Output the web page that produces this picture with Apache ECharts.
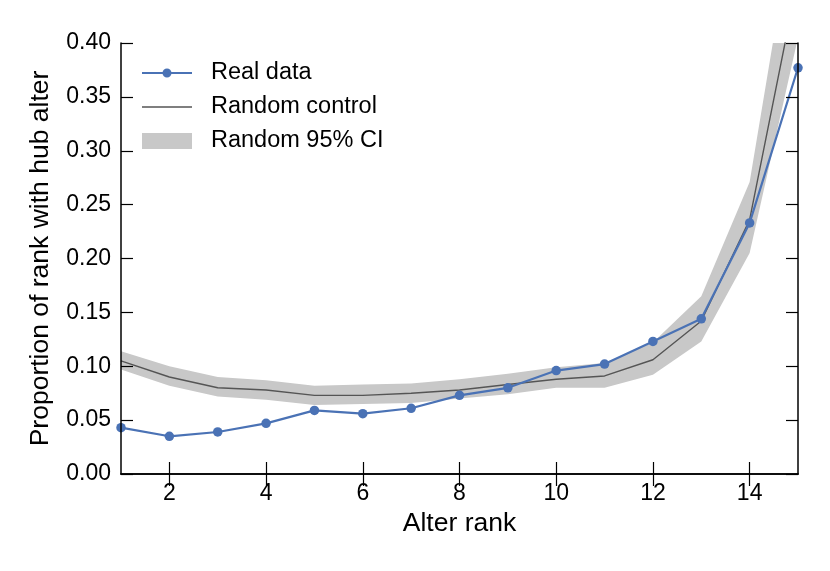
<!DOCTYPE html>
<html>
<head>
<meta charset="utf-8">
<script src="https://cdn.jsdelivr.net/npm/echarts@6/dist/echarts.min.js"></script>
<style>
  html, body { margin: 0; padding: 0; background: #fff; }
  #chart { width: 830px; height: 571px; }
</style>
</head>
<body>
<div id="chart"></div>
<script>
// 数据：横轴为 alter rank，纵轴为比例
const ranks = [1, 2, 3, 4, 5, 6, 7, 8, 9, 10, 11, 12, 13, 14, 15];
const realData = [0.043, 0.035, 0.039, 0.047, 0.059, 0.056, 0.061, 0.073, 0.080, 0.096, 0.102, 0.123, 0.144, 0.233, 0.377];
const randomControl = [0.105, 0.090, 0.080, 0.078, 0.073, 0.073, 0.075, 0.078, 0.083, 0.088, 0.091, 0.106, 0.142, 0.236, 0.46];
const ciLower = [0.097, 0.082, 0.072, 0.069, 0.064, 0.065, 0.066, 0.070, 0.074, 0.080, 0.080, 0.092, 0.123, 0.205, 0.405];
const ciUpper = [0.114, 0.100, 0.090, 0.087, 0.082, 0.083, 0.084, 0.088, 0.093, 0.099, 0.103, 0.122, 0.165, 0.271, 0.54];
const xTicks = [2, 4, 6, 8, 10, 12, 14];

const FONT = '"Liberation Sans", Arial, Helvetica, sans-serif';
const BLUE = '#4a72b5';
const GREY = '#555555';
const BAND = '#c8c8c8';
const pairs = vals => ranks.map((r, i) => [r, vals[i]]);

const chart = echarts.init(document.getElementById('chart'));

const tickStyle = { show: true, inside: true, length: 12, lineStyle: { color: '#000', width: 1.2 } };
const axisLineStyle = { show: true, lineStyle: { color: '#000', width: 1.5 } };

// 图例图标：线 + 圆点 / 细线
const realIcon = 'path://M0,3.5 H50 V5.5 H0 Z M20.5,4.5 A4.5,4.5 0 1 1 29.5,4.5 A4.5,4.5 0 1 1 20.5,4.5 Z';
const controlIcon = 'path://M0,0 H50 V1.4 H0 Z';

const option = {
  animation: false,
  backgroundColor: '#fff',
  textStyle: { fontFamily: FONT },
  grid: { left: 121, right: 32, top: 43, bottom: 97 },
  legend: {
    orient: 'vertical',
    left: 137,
    top: 56,
    itemWidth: 50,
    itemHeight: 16,
    itemGap: 10,
    textStyle: { fontSize: 23.5, lineHeight: 23.5, color: '#000', fontFamily: FONT, padding: [0, 0, 0, 14] },
    data: [
      { name: 'Real data', icon: realIcon, itemStyle: { color: BLUE } },
      { name: 'Random control', icon: controlIcon, itemStyle: { color: GREY } },
      { name: 'Random 95% CI', icon: 'rect', itemStyle: { color: BAND } }
    ]
  },
  xAxis: [
    {
      type: 'value', min: 1, max: 15, z: 5,
      name: 'Alter rank', nameLocation: 'middle', nameGap: 35,
      nameTextStyle: { fontSize: 26.5, color: '#000', fontFamily: FONT },
      axisLine: axisLineStyle,
      axisTick: Object.assign({ customValues: xTicks }, tickStyle),
      axisLabel: { customValues: xTicks, fontSize: 23, color: '#000', margin: 8, fontFamily: FONT },
      splitLine: { show: false }
    },
    {
      type: 'value', min: 1, max: 15, position: 'top', z: 5,
      axisLine: axisLineStyle,
      axisTick: Object.assign({ customValues: xTicks }, tickStyle),
      axisLabel: { show: false },
      splitLine: { show: false }
    }
  ],
  yAxis: [
    {
      type: 'value', min: 0, max: 0.4, interval: 0.05, z: 5,
      name: 'Proportion of rank with hub alter', nameLocation: 'middle', nameGap: 67,
      nameTextStyle: { fontSize: 26.5, color: '#000', fontFamily: FONT },
      axisLine: axisLineStyle,
      axisTick: tickStyle,
      axisLabel: { fontSize: 23, color: '#000', margin: 10, fontFamily: FONT, formatter: v => v.toFixed(2) },
      splitLine: { show: false }
    },
    {
      type: 'value', min: 0, max: 0.4, interval: 0.05, position: 'right', z: 5,
      axisLine: axisLineStyle,
      axisTick: tickStyle,
      axisLabel: { show: false },
      splitLine: { show: false }
    }
  ],
  series: [
    {
      // 95% 置信带：用上下边界围成一个多边形
      name: 'Random 95% CI',
      type: 'custom',
      clip: true,
      silent: true,
      z: 1,
      itemStyle: { color: BAND },
      data: ranks.map((r, i) => [r, ciLower[i], ciUpper[i]]),
      encode: { x: 0, y: [1, 2] },
      renderItem(params, api) {
        if (params.dataIndex !== 0) return null;
        const upper = ranks.map((r, i) => api.coord([r, ciUpper[i]]));
        const lower = ranks.map((r, i) => api.coord([r, ciLower[i]])).reverse();
        return {
          type: 'polygon',
          shape: { points: upper.concat(lower) },
          style: { fill: BAND }
        };
      }
    },
    {
      name: 'Random control',
      type: 'line',
      data: pairs(randomControl),
      symbol: 'none',
      itemStyle: { color: GREY },
      lineStyle: { color: GREY, width: 1.4 },
      z: 2
    },
    {
      name: 'Real data',
      type: 'line',
      data: pairs(realData),
      symbol: 'circle',
      symbolSize: 9.5,
      itemStyle: { color: BLUE },
      lineStyle: { color: BLUE, width: 2.2 },
      z: 3
    }
  ]
};

chart.setOption(option);
</script>
</body>
</html>
